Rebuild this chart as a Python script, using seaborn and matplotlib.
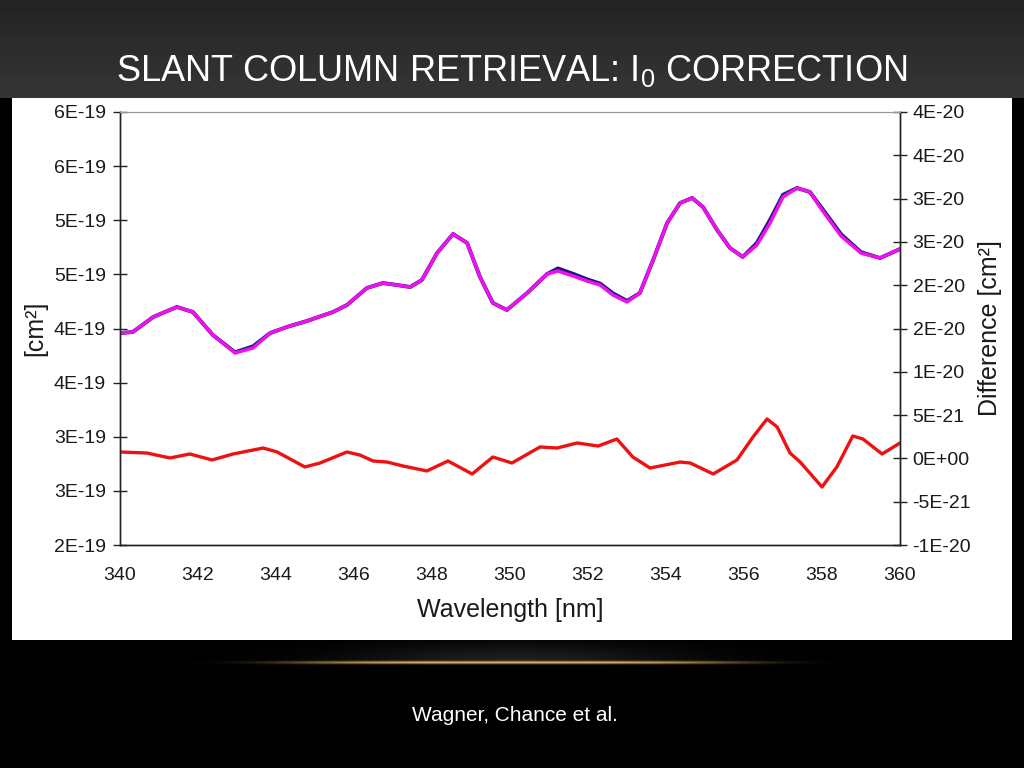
import numpy as np
import matplotlib
matplotlib.use("Agg")
import matplotlib.pyplot as plt
from matplotlib.patches import Rectangle
import seaborn as sns

# cross sections, in 1e-19 cm^2
wl_xs = [340.00, 340.33, 340.85, 341.46, 341.87, 342.38, 342.95, 343.41, 343.85, 344.28,
         344.79, 345.46, 345.82, 346.33, 346.74, 347.10, 347.44, 347.74, 348.13, 348.54,
         348.90, 349.23, 349.56, 349.92, 350.44, 350.95, 351.23, 351.62, 351.97, 352.31,
         352.64, 353.00, 353.33, 353.67, 354.03, 354.36, 354.67, 354.95, 355.31, 355.64,
         355.97, 356.33, 356.67, 357.00, 357.36, 357.69, 358.00, 358.49, 359.00, 359.49,
         360.00]
xs_corrected = [3.958, 3.968, 4.106, 4.199, 4.152, 3.940, 3.774, 3.820, 3.958, 4.014,
                4.069, 4.152, 4.217, 4.374, 4.420, 4.402, 4.383, 4.448, 4.697, 4.873,
                4.790, 4.476, 4.236, 4.171, 4.328, 4.503, 4.531, 4.485, 4.439, 4.402,
                4.309, 4.245, 4.328, 4.633, 4.975, 5.159, 5.206, 5.122, 4.910, 4.744,
                4.661, 4.771, 4.975, 5.215, 5.298, 5.261, 5.095, 4.854, 4.697, 4.651,
                4.734]
xs_original = [3.958, 3.968, 4.106, 4.199, 4.152, 3.940, 3.780, 3.835, 3.958, 4.014,
               4.069, 4.152, 4.217, 4.374, 4.420, 4.402, 4.383, 4.448, 4.697, 4.873,
               4.790, 4.476, 4.236, 4.171, 4.328, 4.503, 4.555, 4.505, 4.455, 4.415,
               4.325, 4.255, 4.328, 4.633, 4.975, 5.159, 5.206, 5.122, 4.910, 4.744,
               4.661, 4.790, 5.005, 5.235, 5.298, 5.261, 5.110, 4.870, 4.705, 4.651,
               4.734]

# difference, in 1e-20 cm^2
wl_diff = [340.00, 340.69, 341.28, 341.79, 342.36, 342.90, 343.67, 344.03, 344.74, 345.13,
           345.82, 346.15, 346.49, 346.85, 347.26, 347.87, 348.41, 349.03, 349.56, 350.05,
           350.77, 351.21, 351.72, 352.26, 352.74, 353.15, 353.59, 354.36, 354.62, 355.21,
           355.82, 356.23, 356.59, 356.85, 357.18, 357.44, 358.00, 358.38, 358.79, 359.05,
           359.54, 360.00]
diff = [0.074, 0.062, 0.005, 0.051, -0.018, 0.051, 0.120, 0.074, -0.099, -0.053,
        0.074, 0.039, -0.030, -0.042, -0.088, -0.145, -0.030, -0.180, 0.016, -0.053,
        0.132, 0.120, 0.178, 0.143, 0.224, 0.016, -0.111, -0.042, -0.053, -0.180,
        -0.018, 0.247, 0.455, 0.363, 0.062, -0.042, -0.330, -0.099, 0.259, 0.224,
        0.051, 0.178]

x_ticks = list(range(340, 361, 2))
left_ticks = [2.0, 2.5, 3.0, 3.5, 4.0, 4.5, 5.0, 5.5, 6.0]
left_labels = ["2E-19", "3E-19", "3E-19", "4E-19", "4E-19", "5E-19", "5E-19", "6E-19", "6E-19"]
right_ticks = [-1.0, -0.5, 0.0, 0.5, 1.0, 1.5, 2.0, 2.5, 3.0, 3.5, 4.0]
right_labels = ["-1E-20", "-5E-21", "0E+00", "5E-21", "1E-20", "2E-20", "2E-20",
                "3E-20", "3E-20", "4E-20", "4E-20"]

sns.set_style("white")
plt.rcParams['font.family'] = ['Liberation Sans', 'DejaVu Sans']
plt.rcParams['mathtext.default'] = 'regular'
plt.rcParams['lines.solid_capstyle'] = 'round'
plt.rcParams['lines.solid_joinstyle'] = 'round'

fig = plt.figure(figsize=(10.24, 7.68), dpi=100)
fig.patch.set_facecolor("black")

# slide background, in pixel coordinates
bg = fig.add_axes([0, 0, 1, 1], zorder=0)
bg.set_xlim(0, 1024)
bg.set_ylim(768, 0)
bg.axis('off')
rows = np.zeros(768)
rows[:98] = np.linspace(0.14, 0.21, 98)
grad = np.repeat(rows[:, None], 4, axis=1)
bg.imshow(grad, cmap='gray', vmin=0, vmax=1, extent=(0, 1024, 768, 0), aspect='auto')
# faint glow above the gold rule
xx = np.linspace(-1, 1, 400)
yy = np.linspace(0, 1, 40)
glow = np.zeros((40, 400, 4))
glow[..., :3] = 0.35
glow[..., 3] = (np.exp(-(xx[None, :] / 0.45) ** 2) * np.exp(-((1 - yy[:, None]) / 0.45) ** 2)) * 0.35
bg.imshow(glow, extent=(150, 880, 662, 622), aspect='auto')
# gold rule
gold = np.zeros((7, 800, 4))
gx = np.linspace(-1, 1, 800)
gy = np.linspace(-1, 1, 7)
gold[..., 0] = 0.85
gold[..., 1] = 0.68
gold[..., 2] = 0.38
gold[..., 3] = np.exp(-(gx[None, :] / 0.58) ** 4) * np.exp(-(gy[:, None] / 0.5) ** 2)
bg.imshow(gold, extent=(125, 905, 666.5, 659.5), aspect='auto')
bg.add_patch(Rectangle((12, 98), 1000, 542, facecolor='white', edgecolor='none'))

fig.text(0.500, 0.8945, r"SLANT COLUMN RETRIEVAL: I$_{0}$ CORRECTION",
         ha='center', va='baseline', color='white', fontsize=26)
fig.text(0.503, 0.0612, "Wagner, Chance et al.", ha='center', va='baseline',
         color='white', fontsize=15)

# chart
ax = fig.add_axes([120 / 1024, 1 - 545 / 768, 780 / 1024, 433 / 768], zorder=2)
ax.set_facecolor('white')
ax2 = ax.twinx()

sns.lineplot(x=wl_diff, y=np.array(diff) * 1e-20, ax=ax2, color='#ee1111', lw=2.4)
sns.lineplot(x=wl_xs, y=np.array(xs_original) * 1e-19, ax=ax, color='#1a1a7a', lw=2.8)
sns.lineplot(x=wl_xs, y=np.array(xs_corrected) * 1e-19, ax=ax, color='#ee11ee', lw=2.5)

ax.set_xlim(340, 360)
ax.set_ylim(2e-19, 6e-19)
ax2.set_ylim(-1e-20, 4e-20)
ax.set_xticks(x_ticks)
ax.set_xticklabels([str(t) for t in x_ticks])
ax.set_yticks([t * 1e-19 for t in left_ticks])
ax.set_yticklabels(left_labels)
ax2.set_yticks([t * 1e-20 for t in right_ticks])
ax2.set_yticklabels(right_labels)

for a in (ax, ax2):
    a.tick_params(direction='inout', length=10, width=1, color='#222222',
                  labelcolor='#1a1a1a', labelsize=14)
    for s in ('left', 'right', 'bottom'):
        a.spines[s].set_color('#222222')
        a.spines[s].set_linewidth(1.0)
    a.spines['top'].set_color('#999999')
    a.spines['top'].set_linewidth(0.8)
ax.tick_params(axis='x', pad=11)
ax.tick_params(axis='y', pad=5)
ax2.tick_params(axis='y', pad=4)

ax.set_xlabel("Wavelength [nm]", fontsize=18, color='#1a1a1a', labelpad=10)
ax.set_ylabel("[cm²]", fontsize=18, color='#1a1a1a', labelpad=5)
ax2.set_ylabel("Difference [cm²]", fontsize=18, color='#1a1a1a', labelpad=5, rotation=90)

fig.savefig("out.png", dpi=100, facecolor=fig.get_facecolor())
